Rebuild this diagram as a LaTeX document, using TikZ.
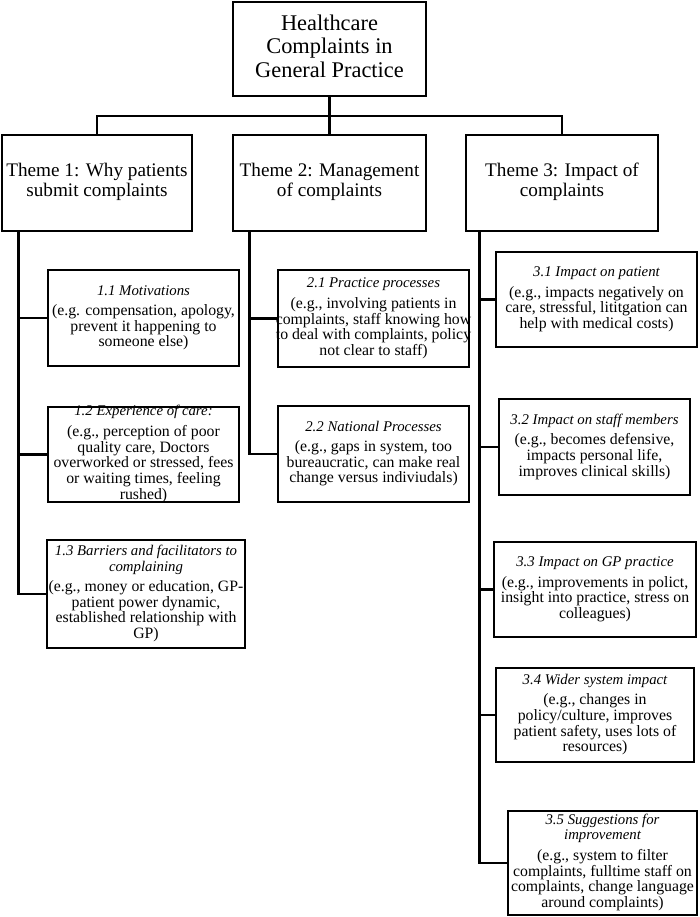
\documentclass[tikz,border=0pt]{standalone}
\usepackage{fontspec}
\setmainfont{Liberation Serif}
\newcommand\hd[1]{{\fontsize{14.8}{15.3}\selectfont\itshape #1}}
\newcommand\subtxt[1]{\fontsize{15.8}{15.3}\selectfont\begin{tabular}{@{}c@{}}#1\end{tabular}}
\newcommand\thtxt[1]{\fontsize{19.2}{20}\selectfont\begin{tabular}{@{}c@{}}#1\end{tabular}}
\newcommand\tttxt[1]{\fontsize{22.4}{23.5}\selectfont\begin{tabular}{@{}c@{}}#1\end{tabular}}
\begin{document}
\begin{tikzpicture}[x=1pt,y=-1pt,
  bx/.style={draw=black,line width=2.8pt,inner sep=0pt,fill=none,rectangle},
  conn/.style={draw=black,line width=2.8pt}]
\fill[white] (0,0) rectangle (700,917);
\useasboundingbox (0,0) rectangle (700,917);
% title and themes
\node[bx,minimum width=193pt,minimum height=94pt] (top) at (329.5,49) {\tttxt{Healthcare\\Complaints in\\General Practice}};
\node[bx,minimum width=190pt,minimum height=96pt] (t1) at (97,183) {\thtxt{Theme 1: Why patients\\submit complaints}};
\node[bx,minimum width=193pt,minimum height=96pt] (t2) at (329.5,183) {\thtxt{Theme 2: Management\\of complaints}};
\node[bx,minimum width=192pt,minimum height=96pt] (t3) at (562,183) {\thtxt{Theme 3: Impact of\\complaints}};
% theme 1
\node[bx,minimum width=191pt,minimum height=96pt,label={[name=s11t]center:\subtxt{\hd{1.1 Motivations}\\[5pt](e.g. compensation, apology,\\prevent it happening to\\someone else)}}] (s11) at (143.5,318) {};
\node[bx,minimum width=191pt,minimum height=95pt,label={[name=s12t]center:\subtxt{\hd{1.2 Experience of care:}\\[5pt](e.g., perception of poor\\quality care, Doctors\\overworked or stressed, fees\\or waiting times, feeling\\rushed)}}] (s12) at (143.5,454.5) {};
\node[bx,minimum width=198pt,minimum height=108pt,label={[name=s13t]center:\subtxt{\hd{1.3 Barriers and facilitators to}\\\hd{complaining}\\[5pt](e.g., money or education, GP-\\patient power dynamic,\\established relationship with\\GP)}}] (s13) at (146,594) {};
% theme 2
\node[bx,minimum width=191pt,minimum height=97pt,label={[name=s21t]center:\subtxt{\hd{2.1 Practice processes}\\[5pt](e.g., involving patients in\\complaints, staff knowing how\\to deal with complaints, policy\\not clear to staff)}}] (s21) at (373.5,318.5) {};
\node[bx,minimum width=191pt,minimum height=96pt,label={[name=s22t]center:\subtxt{\hd{2.2 National Processes}\\[5pt](e.g., gaps in system, too\\bureaucratic, can make real\\change versus indiviudals)}}] (s22) at (373.5,454) {};
% theme 3
\node[bx,minimum width=201pt,minimum height=95pt,label={[name=s31t]center:\subtxt{\hd{3.1 Impact on patient}\\[5pt](e.g., impacts negatively on\\care, stressful, lititgation can\\help with medical costs)}}] (s31) at (596.5,299.5) {};
\node[bx,minimum width=191pt,minimum height=96pt,label={[name=s32t]center:\subtxt{\hd{3.2 Impact on staff members}\\[5pt](e.g., becomes defensive,\\impacts personal life,\\improves clinical skills)}}] (s32) at (594.5,447) {};
\node[bx,minimum width=202pt,minimum height=95pt,label={[name=s33t]center:\subtxt{\hd{3.3 Impact on GP practice}\\[5pt](e.g., improvements in polict,\\insight into practice, stress on\\colleagues)}}] (s33) at (595,589.5) {};
\node[bx,minimum width=198pt,minimum height=94pt,label={[name=s34t]center:\subtxt{\hd{3.4 Wider system impact}\\[5pt](e.g., changes in\\policy/culture, improves\\patient safety, uses lots of\\resources)}}] (s34) at (595,715) {};
\node[bx,minimum width=189pt,minimum height=104pt,label={[name=s35t]center:\subtxt{\hd{3.5 Suggestions for}\\\hd{improvement}\\[5pt](e.g., system to filter\\complaints, fulltime staff on\\complaints, change language\\around complaints)}}] (s35) at (602.5,863) {};
% connectors
\coordinate (bus) at (329.5,116);
\draw[conn] (top.south) -- (bus);
\draw[conn] (t1.north) |- (bus) -| (t3.north);
\draw[conn] (bus) -- (t2.north);
\coordinate (k1) at ([xshift=18pt]t1.south west);
\coordinate (k2) at ([xshift=18pt]t2.south west);
\coordinate (k3) at ([xshift=15pt]t3.south west);
\draw[conn] (k1) |- (s13.west);
\draw[conn] (s11.west) -- (s11.west -| k1);
\draw[conn] (s12.west) -- (s12.west -| k1);
\draw[conn] (k2) |- (s22.west);
\draw[conn] (s21.west) -- (s21.west -| k2);
\draw[conn] (k3) |- (s35.west);
\draw[conn] (s31.west) -- (s31.west -| k3);
\draw[conn] (s32.west) -- (s32.west -| k3);
\draw[conn] (s33.west) -- (s33.west -| k3);
\draw[conn] (s34.west) -- (s34.west -| k3);
\end{tikzpicture}
\end{document}
